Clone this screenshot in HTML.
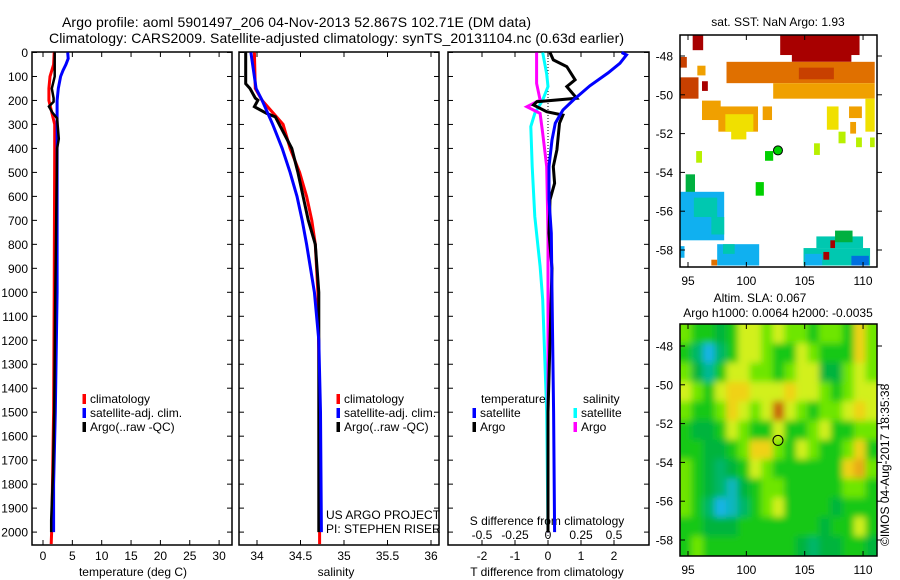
<!DOCTYPE html>
<html><head><meta charset="utf-8">
<style>
html,body{margin:0;padding:0;background:#fff;}
svg{display:block;font-family:"Liberation Sans",sans-serif;}
text{fill:#000;}
</style></head>
<body>
<svg id="fig" width="900" height="580" viewBox="0 0 900 580">
<defs>
<filter id="blur" x="-5%" y="-5%" width="110%" height="110%"><feGaussianBlur stdDeviation="3.5"/></filter>
<clipPath id="clipSST"><rect x="680" y="35" width="197" height="232"/></clipPath>
<clipPath id="clipSLA"><rect x="680" y="324" width="197" height="232"/></clipPath>
</defs>
<text x="62" y="27" font-size="14" textLength="469">Argo profile: aoml 5901497_206 04-Nov-2013 52.867S 102.71E (DM data)</text>
<text x="49" y="43" font-size="14" textLength="575">Climatology: CARS2009. Satellite-adjusted climatology: synTS_20131104.nc (0.63d earlier)</text>
<g id="g"></g>
</svg>
<script>
// ---- Temperature profile data (depth m, value deg C)
const tClimD=[0,50,100,150,200,250,300,340,400,1000,1500,1980,2050];
const tClimV=[1.9,1.8,1.2,1.0,1.0,1.5,2.0,2.0,2.0,1.9,1.8,1.5,1.4];
const tSatD=[0,25,50,75,100,150,200,300,1000,1500,1800,2000];
const tSatV=[4.2,4.3,3.9,3.4,3.0,2.6,2.4,2.4,2.4,2.1,1.8,1.8];
const tArgoD=[0,100,150,190,205,225,250,275,360,400,1000,1500,1750,1950,2000];
const tArgoV=[2.0,2.0,1.5,1.8,1.8,1.0,1.6,2.4,2.7,2.4,2.1,1.9,1.7,1.4,1.4];
// ---- Salinity profile data
const sClimD=[0,150,200,250,300,400,500,600,700,800,1000,1500,2050];
const sClimV=[33.97,33.98,34.06,34.18,34.30,34.38,34.49,34.57,34.63,34.67,34.70,34.72,34.72];
const sSatD=[0,150,200,300,400,500,600,700,800,1000,1200,1500,2000];
const sSatV=[33.93,33.99,34.06,34.18,34.29,34.38,34.46,34.52,34.57,34.66,34.71,34.73,34.74];
const sArgoD=[0,130,150,190,199,226,254,268,400,500,600,700,800,1000,2000];
const sArgoV=[33.87,33.87,33.92,33.98,34.01,33.97,34.11,34.21,34.40,34.47,34.53,34.59,34.67,34.71,34.71];
// ---- Differences from climatology
const dTSatD=[0,10,45,85,139,198,240,295,365,475,612,753,1000,1500,2000];
const dTSatV=[2.23,2.38,2.18,1.82,1.27,0.77,0.45,0.22,0.12,0.03,0.03,0.1,0.12,0.17,0.2];
const dTArgoD=[0,31,59,114,142,191,205,219,247,261,295,406,476,545,614,753,900,1500,2000];
const dTArgoV=[0.06,0.16,0.57,0.82,0.57,0.87,-0.34,-0.44,-0.04,0.45,0.35,0.27,0.16,0.2,0.06,0.03,0.12,0.0,0.0];
const dSArgoD=[0,129,198,226,254,337,476,753,2000];
const dSArgoV=[-0.086,-0.086,-0.06,-0.16,-0.06,-0.04,-0.01,0,0];
const dSSatD=[0,90,142,198,254,309,476,684,892,1031,1500,2000];
const dSSatV=[-0.04,-0.01,0,-0.04,-0.1,-0.13,-0.12,-0.1,-0.06,-0.04,-0.01,0.0];
// ---- Tick labels
const depthTicks=[0,100,200,300,400,500,600,700,800,900,1000,1100,1200,1300,1400,1500,1600,1700,1800,1900,2000];
const tempTicks=[0,5,10,15,20,25,30];
const salTicks=[34,34.5,35,35.5,36];
const dTTicks=[-2,-1,0,1,2];
const dSTicks=[-0.5,-0.25,0,0.25,0.5];
const lonTicks=[95,100,105,110];
const latTicks=[-48,-50,-52,-54,-56,-58];
// ---- SST patches [lon0,lon1,lat0,lat1,colourIndex]
const sstPatches=[
[102.9,109.7,-46.9,-47.95,0],[103.9,109.0,-47.9,-48.3,0],[95.4,96.3,-46.9,-47.7,0],
[98.3,111.0,-48.3,-49.4,2],[102.3,111.0,-49.4,-50.2,3],[104.5,107.5,-48.6,-49.2,1],
[94.2,94.9,-48.05,-48.6,1],[95.8,96.5,-48.5,-49.0,3],[94.2,95.9,-49.1,-50.2,1],[96.2,96.7,-49.3,-49.8,0],
[96.2,97.8,-50.3,-51.3,3],[97.6,101.0,-50.6,-51.9,3],[98.2,100.6,-51.0,-51.9,4],[98.7,100.0,-51.8,-52.3,4],
[101.4,102.2,-50.6,-51.3,3],[106.9,107.9,-50.6,-51.8,4],[108.8,109.9,-50.6,-51.2,3],[108.9,109.4,-51.4,-52.0,3],
[110.2,111.0,-50.2,-51.9,4],[107.9,108.5,-51.9,-52.5,5],[109.4,109.9,-52.2,-52.7,5],[110.6,111.0,-52.2,-52.7,5],
[105.8,106.3,-52.5,-53.1,5],[95.7,96.2,-52.9,-53.5,5],[101.6,102.3,-52.9,-53.4,6],[100.8,101.5,-54.5,-55.2,6],
[94.8,95.6,-54.1,-55.2,7],[94.2,98.1,-55.0,-57.5,9],[95.5,97.5,-55.3,-56.3,8],[97.0,98.1,-56.3,-57.2,8],
[94.2,94.7,-57.8,-58.4,9],[97.5,101.1,-57.7,-58.8,9],[98.0,99.0,-57.7,-58.2,8],
[104.9,110.6,-57.9,-58.8,8],[106.0,110.0,-57.3,-57.9,8],[107.6,109.1,-57.0,-57.6,7],[105.0,106.5,-58.2,-58.8,9],
[109.0,110.5,-58.3,-58.8,10],[107.2,107.6,-57.5,-57.9,0],[106.6,107.1,-58.1,-58.5,0],[97.0,97.5,-58.5,-58.8,2]];
const sstColors=["#a80000","#c84000","#e07000","#f0a000","#f0e000","#b8f000","#00d000","#00b040","#00c8b0","#10b0f0","#0070e0"];
// ---- SLA grid (rows north->south, 17 cols west->east)
const slaGrid=[
[0.5,0,0,-0.5,0,1,1,0.5,1,0.5,0.5,0,0.5,0.5,0,1.5,0.5],
[0,-1,-2.5,-1,0,1,1,0.5,0,0,1,0.5,0,0,0,1.5,0.5],
[0.5,-0.5,-1.5,0,1,1,0.5,0.5,0,0.5,1,1,-0.5,-0.5,0.5,1,0.5],
[1,0.5,0,1,1.5,1.5,1,1,1,1.5,1,1,0.5,0,0.5,1,1],
[0.5,0,0,0.5,1.5,1,0.5,1,3,1,0.5,0,0.5,0.5,1,1.5,1],
[0,-0.5,-0.5,0,1,0.5,0,0,1,0,0,0.5,1,0,0,0.5,0.5],
[0,0,-0.5,-0.5,0,0.5,1.5,1.5,0.5,0,1,0.5,0,0,0.5,1.5,0],
[0.5,0,-0.5,-1,-0.5,0,1,0.5,0,0,0,0,0,0,1.5,2,0.5],
[0.5,0,-0.5,-1,-2,-0.5,0,0.5,0.5,0,0,0,0,0,0.5,0.5,0],
[0.5,0,-1,-2.5,-2,-1,0,0.5,1,0,0,0,0,-0.5,0,0,0],
[0,0,-0.5,-0.5,-0.5,0,0,0,0,0,0,0,-0.5,0,0,1,0],
[0,0.5,0,0,0,0,0,0,0,0,-0.5,-1,-0.5,-0.5,0,0,-0.5]];
const argoLon=102.71, argoLat=-52.867;

const NS="http://www.w3.org/2000/svg";
const G=document.getElementById('g');
function mk(tag,attrs,parent){const e=document.createElementNS(NS,tag);for(const k in attrs)e.setAttribute(k,attrs[k]);(parent||G).appendChild(e);return e;}
function txt(x,y,s,size,anchor,parent){const e=mk('text',{x:x,y:y,'font-size':size||12,'text-anchor':anchor||'start'},parent);e.textContent=s;return e;}

const yD=d=>52.5+d*0.2398;
const xT=v=>43+v*5.87;
const xS=v=>257+(v-34)*87;
const xDT=v=>548+v*33;
const xDS=v=>548+v*132;
const P1={l:32,r:232},P2={l:239,r:439},P3={l:448,r:649};
const pTop=52,pBot=545;

function frame(p,name){
  const r=mk('rect',{x:p.l,y:pTop,width:p.r-p.l,height:pBot-pTop,fill:'none',stroke:'#000','stroke-width':1.5});
  
  
}
function line(D,V,fx,color,name,w){
  const pts=D.map((d,i)=>fx(V[i]).toFixed(1)+','+yD(d).toFixed(1)).join(' ');
  const e=mk('polyline',{points:pts,fill:'none',stroke:color,'stroke-width':w||3,'stroke-linejoin':'miter'});
  
  
}
[P1,P2,P3].forEach((p,i)=>{
  frame(p,['temperature-panel','salinity-panel','difference-panel'][i]);
  depthTicks.forEach(d=>{
    mk('line',{x1:p.l,x2:p.l+5,y1:yD(d),y2:yD(d),stroke:'#000'});
    mk('line',{x1:p.r,x2:p.r-5,y1:yD(d),y2:yD(d),stroke:'#000'});
  });
});
depthTicks.forEach(d=>{const t=txt(28,yD(d)+4.5,String(d),12,'end');
  
  });
function xticks(ticks,fx,fmt,y){ticks.forEach(v=>{const x=fx(v);
  mk('line',{x1:x,x2:x,y1:pTop,y2:pTop+5,stroke:'#000'});mk('line',{x1:x,x2:x,y1:pBot,y2:pBot-5,stroke:'#000'});
  const t=txt(x,y,fmt(v),12,'middle');
  
  });}
xticks(tempTicks,xT,String,560);
xticks(salTicks,xS,String,560);
xticks(dTTicks,xDT,String,560);
dSTicks.forEach(v=>{const t=txt(xDS(v),539,String(v),12,'middle');
  
  });
let t;
t=txt(133,576,'temperature (deg C)',12,'middle');
t=txt(336,576,'salinity',12,'middle');
t=txt(547,576,'T difference from climatology',12,'middle');
t=txt(547,525,'S difference from climatology',12,'middle');

// lines
line(tClimD,tClimV,xT,'#f00','temp-climatology-line');
line(tSatD,tSatV,xT,'#00f','temp-satellite-line');
line(tArgoD,tArgoV,xT,'#000','temp-argo-line',2.5);
line(sClimD,sClimV,xS,'#f00','sal-climatology-line');
line(sArgoD,sArgoV,xS,'#000','sal-argo-line');
line(sSatD,sSatV,xS,'#00f','sal-satellite-line');
mk('line',{x1:548,x2:548,y1:pTop,y2:pBot,stroke:'#000','stroke-dasharray':'1,2'});
line(dSSatD,dSSatV,xDS,'#0ff','sdiff-satellite-line');
line(dSArgoD,dSArgoV,xDS,'#f0f','sdiff-argo-line');
line(dTArgoD,dTArgoV,xDT,'#000','tdiff-argo-line');
line(dTSatD,dTSatV,xDT,'#00f','tdiff-satellite-line');

// legends
function legend(x,y,color,label,name){
  mk('rect',{x:x-1.5,y:y-9,width:3.5,height:10,fill:color});
  const e=txt(x+6,y,label,12);
  
  
}
legend(84,403,'#f00','climatology','legend-temp-climatology');
legend(84,417,'#00f','satellite-adj. clim.','legend-temp-satellite');
legend(84,431,'#000','Argo(..raw -QC)','legend-temp-argo');
legend(338,403,'#f00','climatology','legend-sal-climatology');
legend(338,417,'#00f','satellite-adj. clim.','legend-sal-satellite');
legend(338,431,'#000','Argo(..raw -QC)','legend-sal-argo');
t=txt(481,403,'temperature',12);
t=txt(583,403,'salinity',12);
legend(474,417,'#00f','satellite','legend-tdiff-satellite');
legend(474,431,'#000','Argo','legend-tdiff-argo');
legend(575,417,'#0ff','satellite','legend-sdiff-satellite');
legend(575,431,'#f0f','Argo','legend-sdiff-argo');
t=txt(326,519,'US ARGO PROJECT',12);
t=txt(326,533,'PI: STEPHEN RISER',12);

// maps
const xL=v=>688+(v-95)*11.67;
const yL1=v=>56+(-48-v)*19.4;
const yL2=v=>346+(-48-v)*19.4;
const sstG=mk('g',{'clip-path':'url(#clipSST)'});
sstPatches.forEach(p=>{
  const r=mk('rect',{x:xL(p[0]),y:yL1(p[2]),width:xL(p[1])-xL(p[0]),height:yL1(p[3])-yL1(p[2]),fill:sstColors[p[4]]},sstG);
  
  
});
const stops=[[-2.5,[20,180,230]],[-1.5,[0,184,150]],[-0.5,[0,180,60]],[0,[20,200,20]],[0.5,[110,230,0]],[1,[210,240,30]],[1.5,[240,210,20]],[2.5,[224,128,16]],[3,[200,96,16]]];
function cmap(v){if(v<=stops[0][0])return 'rgb('+stops[0][1]+')';
  for(let i=1;i<stops.length;i++){if(v<=stops[i][0]){const a=stops[i-1],b=stops[i],f=(v-a[0])/(b[0]-a[0]);
    return 'rgb('+a[1].map((c,k)=>Math.round(c+(b[1][k]-c)*f)).join(',')+')';}}
  return 'rgb('+stops[stops.length-1][1]+')';}
const slaClip=mk('g',{'clip-path':'url(#clipSLA)'});
mk('rect',{x:680,y:324,width:197,height:232,fill:cmap(0)},slaClip);
const slaG=mk('g',{filter:'url(#blur)'},slaClip);
const lon0=94.3,lat0=-46.87,dlon=(111.2-94.3)/17,dlat=(58.8-46.87)/12;
slaGrid.forEach((row,ri)=>row.forEach((v,ci)=>{
  const x0=xL(lon0+ci*dlon),x1=xL(lon0+(ci+1)*dlon),y0=yL2(lat0-ri*dlat),y1=yL2(lat0-(ri+1)*dlat);
  const ex=(ci==0?-12:0),ex2=(ci==16?12:0),ey=(ri==0?-12:0),ey2=(ri==11?12:0);
  const r=mk('rect',{x:x0+ex,y:y0+ey,width:x1-x0-ex+ex2+0.5,height:y1-y0-ey+ey2+0.5,fill:cmap(v)},slaG);
  
  
}));
[[35,'sst-map-frame',yL1],[324,'sla-map-frame',yL2]].forEach(([y,n,fy])=>{
  const r=mk('rect',{x:680,y:y,width:197,height:232,fill:'none',stroke:'#000','stroke-width':1.5});
  
  
  lonTicks.forEach(v=>{mk('line',{x1:xL(v),x2:xL(v),y1:y,y2:y+5,stroke:'#000'});mk('line',{x1:xL(v),x2:xL(v),y1:y+232,y2:y+227,stroke:'#000'});
    const e=txt(xL(v),y+250,String(v),12,'middle');
    
    });
  latTicks.forEach(v=>{mk('line',{x1:680,x2:685,y1:fy(v),y2:fy(v),stroke:'#000'});mk('line',{x1:877,x2:882,y1:fy(v),y2:fy(v),stroke:'#000'});
    const e=txt(673,fy(v)+4.5,String(v),12,'end');
    
    });
});
let c=mk('circle',{cx:xL(argoLon),cy:yL1(argoLat),r:4.5,fill:'#00d000',stroke:'#000','stroke-width':1});

c=mk('circle',{cx:xL(argoLon),cy:yL2(argoLat),r:5,fill:'none',stroke:'#000','stroke-width':1});

t=txt(778,26,'sat. SST: NaN Argo: 1.93',12,'middle');
t=txt(760,302,'Altim. SLA: 0.067',12,'middle');
t=txt(778,317,'Argo h1000: 0.0064 h2000: -0.0035',12,'middle');
t=txt(0,0,'©IMOS 04-Aug-2017 18:35:38',12,'start');
t.setAttribute('transform','translate(889,546) rotate(-90)');

</script>
</body></html>
